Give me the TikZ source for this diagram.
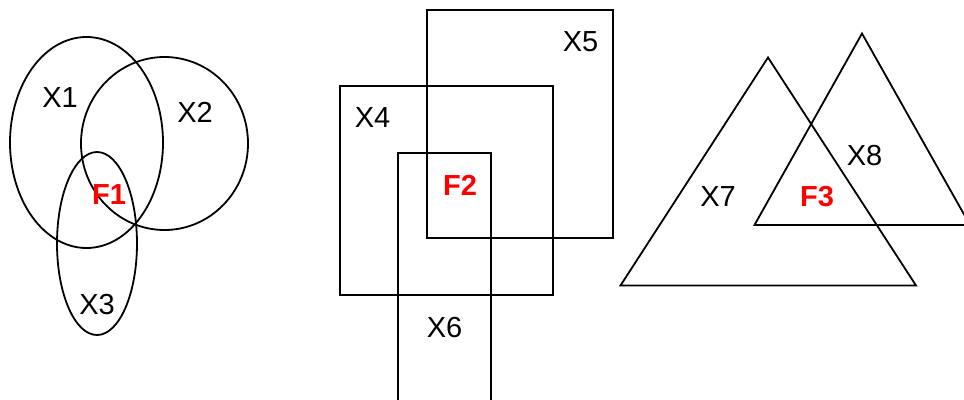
\documentclass[tikz,border=0pt]{standalone}
\usepackage{fontspec}
\setmainfont{Liberation Sans}
\begin{document}
\begin{tikzpicture}[x=1pt,y=-1pt,
  shape line/.style={draw=black,line width=1.8pt},
  lbl/.style={font=\fontsize{29}{33}\selectfont,inner sep=0pt},
  flbl/.style={font=\fontsize{29}{33}\selectfont\bfseries,text=red,inner sep=0pt}]
\useasboundingbox (0,0) rectangle (964,399);
\begin{scope}
\clip (0,0) rectangle (964,399);
% ellipses
\draw[shape line] (86.5,142.5) ellipse [x radius=76.5, y radius=105.5];
\draw[shape line] (164.5,143.5) ellipse [x radius=83.5, y radius=86.5];
\draw[shape line] (97,243.5) ellipse [x radius=40, y radius=91.5];
% rectangles
\draw[shape line] (340,86) rectangle (553,295);
\draw[shape line] (427,10) rectangle (613,238);
\draw[shape line] (398,405) -- (398,153) -- (491,153) -- (491,405);
% triangles
\draw[shape line] (768,57.5) -- (916,285.5) -- (620.5,285.5) -- cycle;
\draw[shape line] (862,33.5) -- (970,225) -- (754.5,225) -- cycle;
\end{scope}
\node[lbl] (x1) at (60,98) {X1};
\node[lbl] (x2) at (195,112) {X2};
\node[lbl] (x3) at (97,305) {X3};
\node[flbl] (f1) at (109,195) {F1};
\node[lbl] (x4) at (372.5,118) {X4};
\node[lbl] (x5) at (580.5,42) {X5};
\node[flbl] (f2) at (460,185.5) {F2};
\node[lbl] (x6) at (444.5,328) {X6};
\node[lbl] (x7) at (718,197) {X7};
\node[flbl] (f3) at (817,197) {F3};
\node[lbl] (x8) at (864.5,156) {X8};
\end{tikzpicture}
\end{document}
